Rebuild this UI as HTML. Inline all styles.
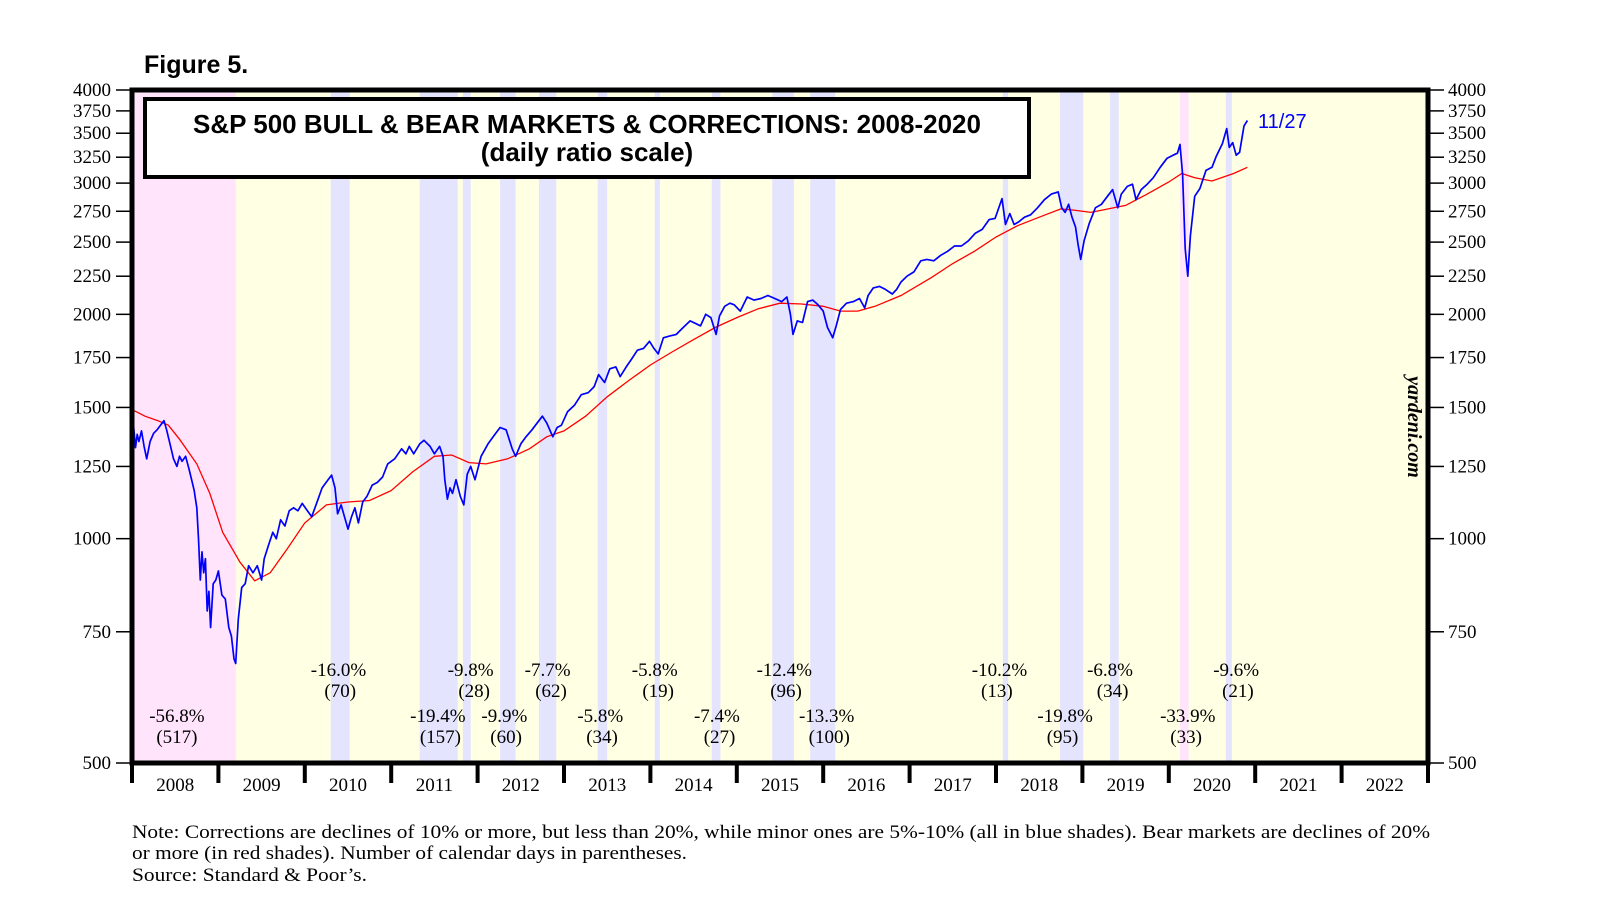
<!DOCTYPE html>
<html><head><meta charset="utf-8">
<style>
html,body{margin:0;padding:0;background:#fff;}
svg{display:block;}
.tk{font-family:"Liberation Serif",serif;font-size:19px;fill:#000;}
.ann{font-family:"Liberation Serif",serif;font-size:19px;fill:#000;text-anchor:middle;}
</style></head>
<body>
<svg id="chart" width="1610" height="910" viewBox="0 0 1610 910" xmlns="http://www.w3.org/2000/svg">
<g id="bands"></g>
<g id="lines"></g>
<g id="axes"></g>
<g id="annots"></g>
<text x="144" y="73" font-family="Liberation Sans,sans-serif" font-weight="bold" font-size="25">Figure 5.</text>
<rect x="145" y="99" width="884" height="78" fill="#fff" stroke="#000" stroke-width="4"/>
<text x="587" y="133" text-anchor="middle" font-family="Liberation Sans,sans-serif" font-weight="bold" font-size="26">S&amp;P 500 BULL &amp; BEAR MARKETS &amp; CORRECTIONS: 2008-2020</text>
<text x="587" y="161" text-anchor="middle" font-family="Liberation Sans,sans-serif" font-weight="bold" font-size="26">(daily ratio scale)</text>
<text x="1258" y="128" fill="#0000ff" font-family="Liberation Sans,sans-serif" font-size="20">11/27</text>
<text transform="translate(1408,427) rotate(90)" text-anchor="middle" font-family="Liberation Serif,serif" font-style="italic" font-weight="bold" font-size="20">yardeni.com</text>
<text x="132" y="838" class="tk" textLength="1298" lengthAdjust="spacingAndGlyphs">Note: Corrections are declines of 10% or more, but less than 20%, while minor ones are 5%-10% (all in blue shades). Bear markets are declines of 20%</text>
<text x="132" y="859" class="tk" textLength="555" lengthAdjust="spacingAndGlyphs">or more (in red shades). Number of calendar days in parentheses.</text>
<text x="132" y="881" class="tk" textLength="235" lengthAdjust="spacingAndGlyphs">Source: Standard &amp; Poor’s.</text>
</svg>
<script>
const yTicks=[500,750,1000,1250,1500,1750,2000,2250,2500,2750,3000,3250,3500,3750,4000];
const years=[2008,2009,2010,2011,2012,2013,2014,2015,2016,2017,2018,2019,2020,2021,2022];
const bandStart=[2008.0,2010.30,2011.33,2011.83,2012.26,2012.71,2013.39,2014.05,2014.71,2015.41,2015.85,2018.08,2018.74,2019.32,2020.13,2020.66];
const bandEnd=[2009.20,2010.52,2011.77,2011.92,2012.44,2012.91,2013.50,2014.11,2014.81,2015.66,2016.14,2018.14,2019.01,2019.42,2020.23,2020.73];
const bandType=['bear','corr','corr','corr','corr','corr','corr','corr','corr','corr','corr','corr','corr','corr','bear','corr'];
const priceDates=[
2008.00,2008.02,2008.04,2008.06,2008.08,2008.11,2008.14,2008.17,2008.21,2008.25,2008.29,2008.33,2008.37,2008.40,2008.44,2008.48,2008.52,2008.55,2008.58,2008.62,2008.66,2008.69,2008.72,2008.75,2008.77,2008.79,2008.81,2008.83,2008.85,2008.87,2008.89,2008.91,2008.94,2008.97,
2009.00,2009.04,2009.08,2009.12,2009.15,2009.18,2009.20,2009.23,2009.27,2009.31,2009.35,2009.40,2009.45,2009.50,2009.53,2009.58,2009.63,2009.67,2009.72,2009.77,2009.82,2009.87,2009.92,2009.97,
2010.03,2010.08,2010.13,2010.20,2010.27,2010.31,2010.35,2010.38,2010.42,2010.46,2010.50,2010.54,2010.58,2010.62,2010.67,2010.72,2010.78,2010.84,2010.90,2010.96,
2011.04,2011.12,2011.17,2011.21,2011.26,2011.33,2011.38,2011.45,2011.50,2011.56,2011.60,2011.62,2011.65,2011.68,2011.71,2011.75,2011.80,2011.84,2011.88,2011.92,2011.97,
2012.04,2012.12,2012.20,2012.26,2012.33,2012.40,2012.44,2012.50,2012.56,2012.63,2012.71,2012.75,2012.80,2012.87,2012.92,2012.97,
2013.04,2013.12,2013.20,2013.28,2013.35,2013.40,2013.47,2013.53,2013.60,2013.65,2013.72,2013.78,2013.85,2013.92,2013.99,
2014.04,2014.09,2014.15,2014.22,2014.30,2014.38,2014.46,2014.54,2014.58,2014.64,2014.70,2014.76,2014.80,2014.86,2014.92,2014.97,
2015.04,2015.12,2015.20,2015.28,2015.36,2015.44,2015.52,2015.58,2015.62,2015.65,2015.70,2015.76,2015.82,2015.88,2015.94,
2016.00,2016.05,2016.11,2016.15,2016.20,2016.27,2016.35,2016.42,2016.48,2016.52,2016.58,2016.65,2016.72,2016.80,2016.85,2016.90,2016.97,
2017.05,2017.13,2017.20,2017.28,2017.36,2017.44,2017.52,2017.60,2017.68,2017.76,2017.84,2017.92,2017.99,
2018.07,2018.11,2018.16,2018.21,2018.26,2018.33,2018.40,2018.48,2018.56,2018.64,2018.72,2018.76,2018.80,2018.84,2018.88,2018.92,2018.95,2018.98,
2019.02,2019.08,2019.15,2019.22,2019.30,2019.35,2019.41,2019.45,2019.52,2019.58,2019.62,2019.68,2019.75,2019.82,2019.90,2019.98,
2020.05,2020.10,2020.13,2020.16,2020.19,2020.22,2020.25,2020.30,2020.36,2020.43,2020.50,2020.55,2020.62,2020.67,2020.70,2020.74,2020.78,2020.82,2020.87,2020.91];
const priceValues=[
1468,1410,1325,1380,1350,1395,1330,1280,1350,1385,1400,1420,1440,1400,1340,1280,1250,1290,1270,1290,1240,1200,1160,1100,1000,880,960,900,940,800,850,760,870,880,
905,840,830,760,740,690,680,780,860,870,920,900,920,880,940,980,1020,1000,1060,1040,1090,1100,1090,1115,
1090,1070,1110,1170,1200,1217,1170,1080,1110,1070,1030,1070,1100,1050,1120,1140,1180,1190,1210,1260,
1280,1320,1300,1330,1300,1340,1355,1330,1300,1330,1290,1200,1130,1170,1150,1200,1140,1110,1220,1250,1200,
1290,1340,1380,1410,1400,1320,1290,1340,1370,1400,1440,1460,1430,1370,1410,1420,
1480,1510,1560,1570,1600,1660,1620,1690,1700,1650,1700,1740,1790,1800,1840,
1800,1770,1860,1870,1880,1920,1960,1940,1930,2000,1980,1880,1990,2050,2070,2060,
2020,2110,2090,2100,2120,2100,2080,2110,2000,1880,1960,1950,2080,2090,2060,
2020,1920,1860,1930,2030,2070,2080,2100,2040,2120,2170,2180,2160,2130,2160,2210,2250,
2280,2360,2370,2360,2400,2430,2470,2470,2510,2570,2600,2680,2690,
2860,2640,2730,2640,2660,2700,2720,2780,2850,2900,2920,2780,2740,2810,2700,2620,2480,2370,
2510,2650,2780,2810,2890,2940,2780,2900,2970,2990,2850,2940,2990,3050,3150,3240,
3270,3290,3380,3080,2450,2250,2550,2880,2950,3120,3150,3260,3390,3550,3350,3400,3270,3300,3580,3640];
const maDates=[2008.0,2008.15,2008.3,2008.42,2008.55,2008.75,2008.9,2009.05,2009.25,2009.42,2009.6,2009.8,2010.0,2010.25,2010.5,2010.75,2011.0,2011.25,2011.5,2011.7,2011.9,2012.1,2012.35,2012.6,2012.8,2013.0,2013.25,2013.5,2013.75,2014.0,2014.25,2014.5,2014.75,2015.0,2015.25,2015.5,2015.75,2016.0,2016.2,2016.4,2016.6,2016.9,2017.25,2017.5,2017.75,2018.0,2018.25,2018.5,2018.75,2018.9,2019.1,2019.3,2019.5,2019.75,2020.0,2020.15,2020.3,2020.5,2020.75,2020.91];
const maValues=[1490,1460,1440,1420,1360,1260,1150,1020,930,878,900,970,1050,1110,1120,1125,1160,1230,1290,1295,1265,1260,1280,1320,1370,1395,1460,1550,1630,1710,1780,1850,1920,1980,2035,2070,2065,2050,2020,2020,2050,2120,2240,2340,2430,2540,2630,2700,2770,2760,2740,2770,2800,2900,3010,3090,3050,3020,3090,3150];
const annText=['-56.8%','(517)','-16.0%','(70)','-19.4%','(157)','-9.8%','(28)','-9.9%','(60)','-7.7%','(62)','-5.8%','(34)','-5.8%','(19)','-7.4%','(27)','-12.4%','(96)','-13.3%','(100)','-10.2%','(13)','-19.8%','(95)','-6.8%','(34)','-33.9%','(33)','-9.6%','(21)'];
const annYear=[2008.52,2008.52,2010.39,2010.41,2011.54,2011.57,2011.92,2011.96,2012.31,2012.33,2012.81,2012.85,2013.42,2013.44,2014.05,2014.09,2014.77,2014.80,2015.55,2015.57,2016.04,2016.07,2018.04,2018.01,2018.80,2018.77,2019.32,2019.35,2020.22,2020.20,2020.78,2020.80];
const annRow=[2,3,0,1,2,3,0,1,2,3,0,1,2,3,0,1,2,3,0,1,2,3,0,1,2,3,0,1,2,3,0,1];

const NS='http://www.w3.org/2000/svg';
const L=132,R=1428,T=90,B=763;
const x=yr=>L+(yr-2008)*(R-L)/15;
const y=v=>T+(Math.log(4000)-Math.log(v))/Math.log(8)*(B-T);
function mk(tag,attrs,parent){const e=document.createElementNS(NS,tag);for(const k in attrs)e.setAttribute(k,attrs[k]);parent.appendChild(e);return e;}
const bands=document.getElementById('bands'),lines=document.getElementById('lines'),axes=document.getElementById('axes'),annots=document.getElementById('annots');

const bg=mk('rect',{x:L,y:T,width:R-L,height:B-T,fill:'#ffffe4'},bands);


bandStart.forEach((s,i)=>{
  const r=mk('rect',{x:x(s),y:T,width:x(bandEnd[i])-x(s),height:B-T,fill:bandType[i]==='bear'?'#ffe4fb':'#e4e4ff'},bands);
  
  
});

let dMa=maDates.map((d,i)=>(i?'L':'M')+x(d).toFixed(1)+','+y(maValues[i]).toFixed(1)).join('');
const ma=mk('path',{d:dMa,fill:'none',stroke:'#ff0000','stroke-width':1.3},lines);


const n=Math.min(priceDates.length,priceValues.length);
let dP='';
for(let i=0;i<n;i++){dP+=(i?'L':'M')+x(priceDates[i]).toFixed(1)+','+y(priceValues[i]).toFixed(1);}
const pr=mk('path',{d:dP,fill:'none',stroke:'#0000ff','stroke-width':1.7,'stroke-linejoin':'round'},lines);



const frame=mk('rect',{x:L,y:T,width:R-L,height:B-T,fill:'none',stroke:'#000','stroke-width':5},axes);


yTicks.forEach(v=>{
  const yy=y(v);
  const t1=mk('line',{x1:116,x2:L,y1:yy,y2:yy,stroke:'#000','stroke-width':1.5},axes);
  
  
  const t2=mk('line',{x1:R,x2:R+16,y1:yy,y2:yy,stroke:'#000','stroke-width':1.5},axes);
  
  
  const a=mk('text',{x:111,y:yy+6,'text-anchor':'end',class:'tk'},axes);a.textContent=v;
  
  
  const b=mk('text',{x:R+20,y:yy+6,class:'tk'},axes);b.textContent=v;
  
  
});
years.forEach((yr,i)=>{
  const xx=x(yr);
  const tk=mk('line',{x1:xx,x2:xx,y1:B,y2:B+20,stroke:'#000','stroke-width':4},axes);
  
  
  const t=mk('text',{x:xx+(R-L)/30,y:B+28,'text-anchor':'middle',class:'tk'},axes);t.textContent=yr;
  
  
});
const endTk=mk('line',{x1:R,x2:R,y1:B,y2:B+20,stroke:'#000','stroke-width':4},axes);



const rowY=[676,697,722,743];
annText.forEach((s,i)=>{
  const t=mk('text',{x:x(annYear[i]),y:rowY[annRow[i]],class:'ann'},annots);t.textContent=s;
  
  
});
</script>
</body></html>
